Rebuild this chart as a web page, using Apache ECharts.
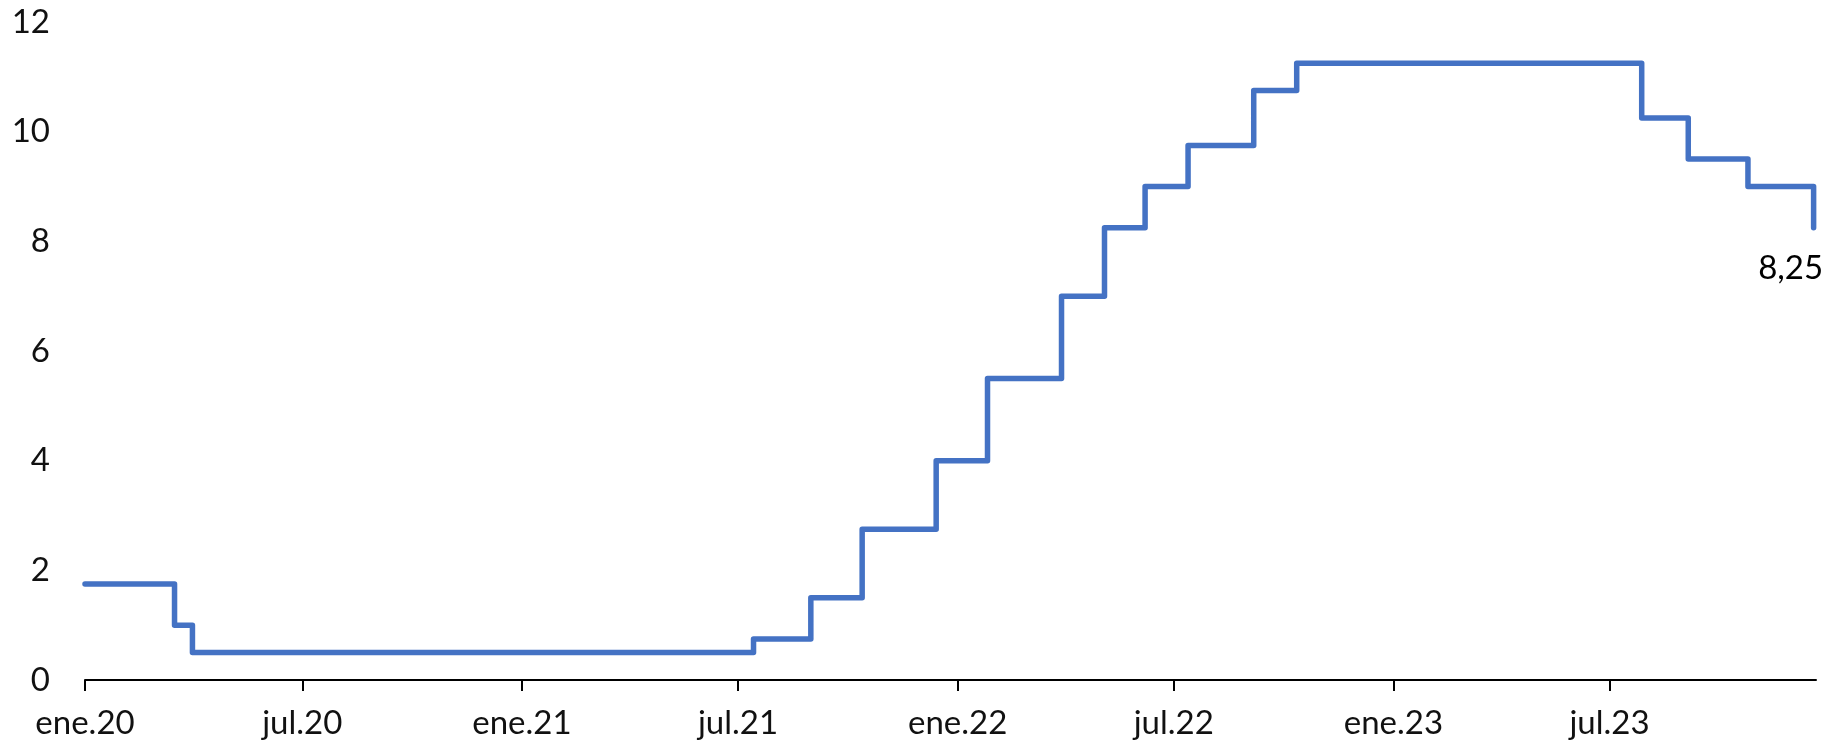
<!DOCTYPE html>
<html>
<head>
<meta charset="utf-8">
<script src="https://cdn.jsdelivr.net/npm/echarts@6/dist/echarts.min.js"></script>
<style>
  html, body { margin: 0; padding: 0; background: #ffffff; }
  #chart { width: 1830px; height: 746px; }
</style>
</head>
<body>
<div id="chart"></div>
<script>
// Policy-rate change dates and the rate from that date on (%)
const changeDates = [
  '2020-01-01', '2020-03-16', '2020-03-31', '2021-07-14', '2021-08-31',
  '2021-10-13', '2021-12-14', '2022-01-26', '2022-03-29', '2022-05-04',
  '2022-06-07', '2022-07-13', '2022-09-06', '2022-10-12', '2023-07-28',
  '2023-09-05', '2023-10-25', '2023-12-19'
];
const rates = [
  1.75, 1.00, 0.50, 0.75, 1.50,
  2.75, 4.00, 5.50, 7.00, 8.25,
  9.00, 9.75, 10.75, 11.25, 10.25,
  9.50, 9.00, 8.25
];
const axisStart = '2020-01-01';
const axisEnd = '2023-12-21';
const monthLabels = ['ene', 'feb', 'mar', 'abr', 'may', 'jun', 'jul', 'ago', 'sep', 'oct', 'nov', 'dic'];
const yMin = 0, yMax = 12, yStep = 2;

const FONT = 'Lato';
const FS = 33;
const TEXT = '#111111';
const DAY = 86400000;

const seriesData = changeDates.map(function (d, i) { return [d, rates[i]]; });
const lastIdx = changeDates.length - 1;

const chart = echarts.init(document.getElementById('chart'), null, { renderer: 'canvas' });
chart.setOption({
  animation: false,
  backgroundColor: '#ffffff',
  grid: { left: 85, right: 14, top: 22, bottom: 66, containLabel: false },
  xAxis: {
    type: 'time',
    min: axisStart,
    max: axisEnd,
    minInterval: 181 * DAY,
    maxInterval: 185 * DAY,
    splitLine: { show: false },
    axisLine: { show: true, lineStyle: { color: '#000000', width: 2 } },
    axisTick: { show: true, length: 11, lineStyle: { color: '#000000', width: 2 } },
    minorTick: { show: false },
    axisLabel: {
      margin: 27,
      fontFamily: FONT,
      fontSize: FS,
      color: TEXT,
      showMaxLabel: false,
      hideOverlap: false,
      formatter: function (val) {
        const d = new Date(val);
        return monthLabels[d.getMonth()] + '.' + String(d.getFullYear()).slice(2);
      }
    }
  },
  yAxis: {
    type: 'value',
    min: yMin,
    max: yMax,
    interval: yStep,
    splitLine: { show: false },
    axisLine: { show: false },
    axisTick: { show: false },
    axisLabel: { margin: 35, fontFamily: FONT, fontSize: FS, color: TEXT }
  },
  series: [{
    type: 'line',
    step: 'end',
    data: seriesData,
    showSymbol: false,
    symbol: 'none',
    clip: false,
    lineStyle: { color: '#4472C4', width: 5.5, cap: 'round', join: 'round' },
    itemStyle: { color: '#4472C4' },
    emphasis: { disabled: true },
    markPoint: {
      silent: true,
      symbol: 'circle',
      symbolSize: 1,
      itemStyle: { color: 'rgba(0,0,0,0)' },
      data: [{
        coord: [changeDates[lastIdx], rates[lastIdx]],
        value: rates[lastIdx],
        label: {
          show: true,
          position: 'inside',
          offset: [-23, 41],
          formatter: function (p) { return Number(p.value).toFixed(2).replace('.', ','); },
          fontFamily: FONT,
          fontSize: FS,
          color: '#000000'
        }
      }]
    }
  }]
});
</script>
</body>
</html>
